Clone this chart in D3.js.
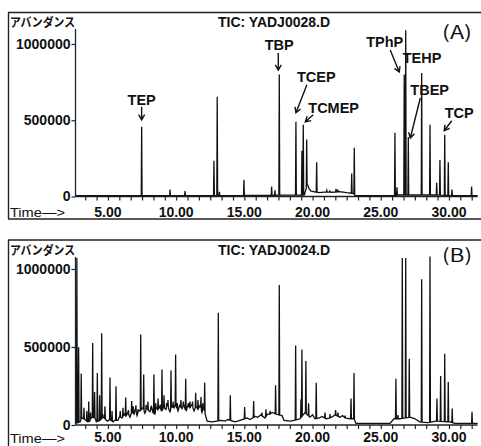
<!DOCTYPE html>
<html>
<head>
<meta charset="utf-8">
<script src="https://cdn.jsdelivr.net/npm/d3@7"></script>
<style>
  body { margin: 0; background: #fff; }
  svg text { fill: #111; }
</style>
</head>
<body>
<svg id="chart" width="481" height="446"></svg>
<script>
// ---- data -------------------------------------------------------------
const yTickValues = [0, 500000, 1000000];
const xTickLabels = [5, 10, 15, 20, 25, 30];
const yAxisTitle = "アバンダンス";
const xAxisTitle = "Time—>";
const titleA = "TIC: YADJ0028.D";
const titleB = "TIC: YADJ0024.D";
const tagA = "(A)";
const tagB = "(B)";

// baseline anchors: [retention time (min), abundance]
const baselineA = [
  [2.62, 5000], [7.4, 5000], [12.5, 6000], [17.0, 8000], [19.4, 10000],
  [19.62, 80000], [19.75, 50000], [19.9, 35000], [20.5, 25000], [21.0, 30000],
  [21.5, 28000], [22.0, 32000], [22.5, 25000], [23.0, 20000], [23.12, 5000],
  [26.0, 5000], [26.3, 10000], [27.2, 10000], [29.0, 10000], [30.5, 5000], [32.1, 5000]
];
// peaks: [retention time (min), apex abundance]
const peaksA = [
  [7.47, 457000], [9.55, 45000], [10.65, 35000], [12.77, 235000], [13.01, 654000],
  [13.17, 30000], [14.97, 110000], [17.0, 65000], [17.24, 40000], [17.56, 800000],
  [18.78, 490000], [19.22, 300000], [19.32, 470000], [19.57, 373000], [19.70, 60000],
  [19.81, 45000], [20.30, 224000], [21.04, 40000], [21.27, 35000], [21.72, 50000],
  [21.86, 45000], [22.23, 30000], [22.87, 150000], [23.06, 320000], [26.04, 418000],
  [26.19, 60000], [26.72, 800000], [26.83, 1090000], [27.02, 390000], [28.00, 810000],
  [28.61, 470000], [29.10, 90000], [29.34, 240000], [29.69, 405000], [29.95, 224000],
  [30.22, 45000], [31.66, 65000]
];

const baselineB = [
  [2.62, 10000], [2.95, 20000], [3.1, 45000], [3.31, 35000], [3.5, 20000], [3.68, 25000],
  [3.8, 50000], [4.05, 45000], [4.15, 20000], [4.41, 30000], [4.65, 50000], [4.78, 40000],
  [4.95, 25000], [5.15, 35000], [5.37, 20000], [5.5, 30000], [5.73, 30000], [5.85, 55000],
  [6.03, 45000], [6.2, 70000], [6.32, 55000], [6.45, 80000], [6.61, 50000], [6.75, 85000],
  [6.91, 70000], [7.0, 100000], [7.13, 60000], [7.25, 95000], [7.35, 90000], [7.55, 110000],
  [7.71, 75000], [7.85, 105000], [8.08, 85000], [8.2, 115000], [8.3, 80000], [8.44, 70000],
  [8.55, 110000], [8.67, 95000], [8.8, 120000], [8.96, 80000], [9.05, 115000], [9.25, 100000],
  [9.35, 125000], [9.55, 85000], [9.7, 120000], [9.84, 110000], [9.92, 135000], [10.13, 90000],
  [10.25, 125000], [10.43, 105000], [10.55, 130000], [10.72, 85000], [10.85, 125000],
  [11.01, 110000], [11.15, 130000], [11.31, 90000], [11.45, 120000], [11.6, 100000],
  [11.75, 125000], [11.89, 80000], [12.0, 110000], [12.11, 75000], [12.27, 25000],
  [12.63, 20000], [13.3, 30000], [13.58, 25000], [13.8, 35000], [14.32, 20000], [14.68, 30000],
  [15.2, 45000], [15.41, 35000], [15.8, 55000], [16.0, 50000], [16.2, 65000], [16.51, 45000],
  [16.7, 70000], [16.88, 70000], [17.05, 80000], [17.32, 70000], [17.76, 60000], [17.91, 30000],
  [18.35, 25000], [18.64, 30000], [19.08, 40000], [19.45, 80000], [19.81, 50000], [20.0, 65000],
  [20.18, 40000], [20.5, 45000], [20.69, 55000], [21.0, 40000], [21.27, 45000], [21.5, 55000],
  [21.64, 65000], [22.01, 50000], [22.2, 60000], [22.38, 45000], [22.74, 40000], [23.04, 40000],
  [23.18, 10000], [25.68, 10000], [25.97, 40000], [26.41, 40000], [27.14, 50000], [27.51, 40000],
  [27.85, 20000], [28.45, 15000], [29.04, 25000], [30.07, 20000], [30.44, 10000], [32.1, 10000]
];
const peaksB = [
  [2.72, 1070000], [2.85, 498000], [3.04, 330000], [3.24, 110000], [3.45, 90000],
  [3.59, 150000], [3.72, 80000], [3.88, 525000], [4.02, 212000], [4.22, 333000],
  [4.39, 190000], [4.54, 588000], [4.62, 70000], [4.78, 120000], [5.15, 304000],
  [5.3, 90000], [5.59, 248000], [5.9, 90000], [6.1, 110000], [6.30, 176000],
  [6.5, 95000], [6.74, 153000], [6.85, 120000], [7.05, 127000], [7.2, 100000],
  [7.40, 580000], [7.62, 323000], [7.8, 130000], [7.93, 150000], [8.15, 120000],
  [8.37, 323000], [8.5, 140000], [8.67, 170000], [8.85, 130000], [8.96, 355000],
  [9.11, 190000], [9.3, 140000], [9.40, 160000], [9.62, 350000], [9.78, 150000],
  [9.96, 452000], [10.08, 140000], [10.35, 160000], [10.52, 150000], [10.70, 297000],
  [10.9, 140000], [11.01, 150000], [11.2, 150000], [11.43, 206000], [11.6, 160000],
  [11.82, 180000], [11.95, 140000], [12.09, 270000], [13.09, 720000], [13.97, 190000],
  [15.02, 115000], [15.68, 153000], [16.29, 80000], [16.58, 100000], [16.88, 90000],
  [17.29, 255000], [17.56, 898000], [18.76, 510000], [19.15, 165000], [19.22, 484000],
  [19.51, 410000], [19.71, 140000], [20.27, 270000], [20.91, 80000], [21.28, 70000],
  [21.69, 96000], [21.86, 80000], [22.38, 60000], [22.82, 170000], [23.04, 333000],
  [26.11, 297000], [26.26, 64000], [26.58, 1070000], [26.83, 1070000], [27.09, 425000],
  [28.00, 934000], [28.61, 1080000], [29.12, 170000], [29.39, 314000], [29.69, 457000],
  [29.95, 276000], [30.24, 106000], [31.69, 85000]
];

// identified compounds in run A: [name, retention time]
const compoundNames = ["TEP", "TBP", "TCEP", "TCMEP", "TPhP", "TEHP", "TBEP", "TCP"];
const compoundTimes = [7.47, 17.56, 18.78, 19.32, 26.72, 26.83, 27.02, 29.69];

// ---- layout -----------------------------------------------------------
const svg = d3.select("#chart");
const FONT = "'Liberation Sans', Arial, sans-serif";
const JFONT = "'Noto Sans CJK JP', sans-serif";

const x = d3.scaleLinear().domain([2.62, 32.1]).range([75.5, 477.6]);

const panels = [
  { frameTop: 12.5, frameBottom: 219, y0: 196.5, y1: 44, axisTop: 29,
    title: titleA, tag: tagA, tagY: 39, base: baselineA, peaks: peaksA,
    tickLabelY: 216.5, timeY: 216.5 },
  { frameTop: 240, frameBottom: null, y0: 425, y1: 269, axisTop: 257,
    title: titleB, tag: tagB, tagY: 262, base: baselineB, peaks: peaksB,
    tickLabelY: 442, timeY: 442.5 }
];

// label placement relative to each compound's apex (pixels)
const labelLayout = {
  TEP:   { lx: 0,   ly: -22, anchor: "middle", arrow: [[0, -20], [0, -7]] },
  TBP:   { lx: 0,   ly: -24.5, anchor: "middle", arrow: [[-1, -21.5], [-1, -4.5]] },
  TCEP:  { lx: 1,   ly: -40, anchor: "start", arrow: [[11, -37], [0, -9]] },
  TCMEP: { lx: 5,   ly: -12, anchor: "start", arrow: [[10, -10], [2, -3]] },
  TPhP:  { lx: -1,  ly: -27.5, anchor: "end", arrow: [[-14, -24.5], [-5, -2.5]] },
  TEHP:  { lx: -3,  ly: 33, anchor: "start", arrow: null },
  TBEP:  { lx: 2,   ly: -42, anchor: "start", arrow: [[12, -39], [2, 1]] },
  TCP:   { lx: 0,   ly: -17, anchor: "start", arrow: [[7, -14], [-0.5, -4]] }
};

function baselineAt(base, t) {
  const i = d3.bisector(d => d[0]).right(base, t);
  if (i <= 0) return base[0][1];
  if (i >= base.length) return base[base.length - 1][1];
  const a = base[i - 1], b = base[i];
  return a[1] + (b[1] - a[1]) * (t - a[0]) / (b[0] - a[0]);
}

function tracePoints(base, peaks) {
  const hw = 0.03;
  const pts = base.filter(b => !peaks.some(p => Math.abs(p[0] - b[0]) < hw * 1.5))
                  .map(b => [b[0], b[1]]);
  peaks.forEach(p => {
    pts.push([p[0] - hw, baselineAt(base, p[0] - hw)]);
    pts.push([p[0], p[1]]);
    pts.push([p[0] + hw, baselineAt(base, p[0] + hw)]);
  });
  pts.sort((a, b) => a[0] - b[0]);
  return pts;
}

panels.forEach(p => {
  const g = svg.append("g");
  const y = d3.scaleLinear().domain([0, 1000000]).range([p.y0, p.y1]);
  p.yScale = y;

  // frame
  g.append("line").attr("x1", 8).attr("x2", 481).attr("y1", p.frameTop).attr("y2", p.frameTop)
    .attr("stroke", "#222").attr("stroke-width", 1.4);
  g.append("line").attr("x1", 8.5).attr("x2", 8.5).attr("y1", p.frameTop)
    .attr("y2", p.frameBottom === null ? 446 : p.frameBottom)
    .attr("stroke", "#222").attr("stroke-width", 1.4);
  if (p.frameBottom !== null) {
    g.append("line").attr("x1", 8).attr("x2", 481).attr("y1", p.frameBottom).attr("y2", p.frameBottom)
      .attr("stroke", "#222").attr("stroke-width", 1.4);
  }

  // header texts
  g.append("text").attr("x", 10).attr("y", p.frameTop + 14.5)
    .attr("font-family", JFONT).attr("font-size", 12.5).attr("font-weight", "bold")
    .attr("textLength", 65).attr("lengthAdjust", "spacingAndGlyphs")
    .text(yAxisTitle);
  g.append("text").attr("x", 218).attr("y", p.frameTop + 14.5)
    .attr("font-family", FONT).attr("font-size", 14).attr("font-weight", "bold")
    .text(p.title);
  g.append("text").attr("x", 442).attr("y", p.tagY)
    .attr("font-family", JFONT).attr("font-size", 18)
    .attr("textLength", 30).attr("lengthAdjust", "spacingAndGlyphs")
    .text(p.tag);

  // y axis
  const yAxis = d3.axisLeft(y).tickValues(yTickValues).tickSize(4).tickPadding(1)
    .tickFormat(d3.format("d"));
  const ya = g.append("g").attr("transform", `translate(${x.range()[0]},0)`).call(yAxis);
  ya.select(".domain").remove();
  ya.selectAll("line").attr("stroke", "#222").attr("stroke-width", 1.2);
  ya.selectAll("text").attr("font-family", FONT).attr("font-size", 14).attr("font-weight", "bold")
    .attr("fill", "#111");
  g.append("line").attr("x1", x.range()[0]).attr("x2", x.range()[0])
    .attr("y1", p.axisTop).attr("y2", p.y0).attr("stroke", "#222").attr("stroke-width", 1.3);

  // x axis: minor ticks every 5/6 min, labels every 5 min
  const minor = d3.range(-2, 36).map(k => 5 + k * 5 / 6)
    .filter(t => t > x.domain()[0] + 0.1 && t < x.domain()[1]);
  const xa = g.append("g").attr("transform", `translate(0,${p.y0})`)
    .call(d3.axisBottom(x).tickValues(minor).tickSize(4).tickFormat(""));
  xa.select(".domain").remove();
  xa.selectAll("line").attr("stroke", "#222").attr("stroke-width", 1.2);
  g.append("line").attr("x1", x.range()[0]).attr("x2", x.range()[1])
    .attr("y1", p.y0).attr("y2", p.y0).attr("stroke", "#222").attr("stroke-width", 1.3);
  g.selectAll("text.xl").data(xTickLabels).join("text").attr("class", "xl")
    .attr("x", d => x(d)).attr("y", p.tickLabelY).attr("text-anchor", "middle")
    .attr("font-family", FONT).attr("font-size", 14).attr("font-weight", "bold")
    .text(d => d3.format(".2f")(d));
  g.append("text").attr("x", 10).attr("y", p.timeY)
    .attr("font-family", FONT).attr("font-size", 13.5)
    .attr("textLength", 55).attr("lengthAdjust", "spacingAndGlyphs")
    .text(xAxisTitle);

  // chromatogram trace
  const line = d3.line().x(d => x(d[0])).y(d => y(d[1]));
  g.append("path").datum(tracePoints(p.base, p.peaks))
    .attr("d", line).attr("fill", "none").attr("stroke", "#111")
    .attr("stroke-width", 1.3).attr("stroke-linejoin", "miter");
});

// compound annotations on run A
const pa = panels[0];
compoundNames.forEach((name, i) => {
  const t = compoundTimes[i];
  const peak = peaksA.find(pk => Math.abs(pk[0] - t) < 1e-6);
  const px = x(peak[0]), py = pa.yScale(peak[1]);
  const L = labelLayout[name];
  svg.append("text").attr("x", px + L.lx).attr("y", py + L.ly)
    .attr("text-anchor", L.anchor)
    .attr("font-family", FONT).attr("font-size", 14.5).attr("font-weight", "bold")
    .text(name);
  if (L.arrow) {
    const [a, b] = L.arrow;
    const x0 = px + a[0], y0 = py + a[1], x1 = px + b[0], y1 = py + b[1];
    const ang = Math.atan2(y1 - y0, x1 - x0);
    const hl = 6, spread = Math.PI / 6;
    const h1 = [x1 - hl * Math.cos(ang - spread), y1 - hl * Math.sin(ang - spread)];
    const h2 = [x1 - hl * Math.cos(ang + spread), y1 - hl * Math.sin(ang + spread)];
    svg.append("path")
      .attr("d", `M${x0},${y0}L${x1},${y1}M${h1[0]},${h1[1]}L${x1},${y1}L${h2[0]},${h2[1]}`)
      .attr("fill", "none").attr("stroke", "#111").attr("stroke-width", 1.4);
  }
});
</script>
</body>
</html>
